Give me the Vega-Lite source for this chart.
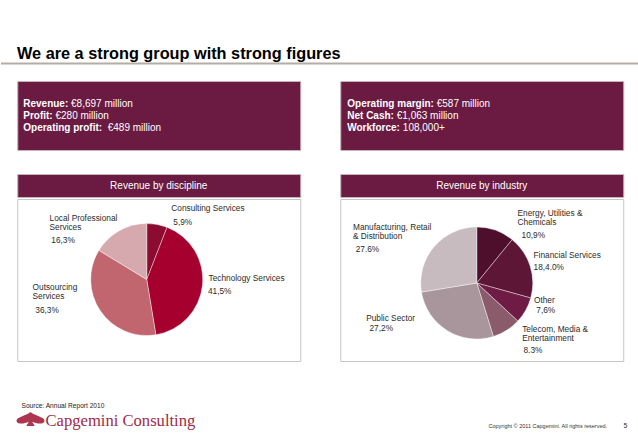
{
  "$schema": "https://vega.github.io/schema/vega-lite/v6.json",
  "padding": 0,
  "background": "white",
  "center": true,
  "spacing": 0,
  "config": {
    "view": {"stroke": null},
    "text": {"font": "Liberation Sans"}
  },
  "vconcat": [
    {
      "width": 638,
      "height": 80,
      "layer": [
        {
          "data": {"values": [{"t": "We are a strong group with strong figures"}]},
          "mark": {"type": "text", "align": "left", "baseline": "alphabetic", "fontSize": 16.3, "fontWeight": "bold", "color": "#000000"},
          "encoding": {"text": {"field": "t"}, "x": {"value": 16}, "y": {"value": 59}}
        },
        {
          "data": {"values": [{}]},
          "mark": {"type": "rule", "color": "#b4ada5", "strokeWidth": 2},
          "encoding": {"y": {"value": 63.5}}
        }
      ]
    },
    {
      "spacing": 22,
      "vconcat": [
        {
          "spacing": 38,
          "hconcat": [
            {
              "width": 283,
              "height": 69,
              "view": {"fill": "#6b1a42", "stroke": "#c4b5bb", "strokeWidth": 1},
              "data": {"values": [
                {"label": "Revenue:", "value": "€8,697 million"},
                {"label": "Profit:", "value": "€280 million"},
                {"label": "Operating profit:", "value": "€489 million"}
              ]},
              "encoding": {
                "y": {"field": "label", "type": "nominal", "sort": null, "axis": null, "scale": {"type": "point", "range": [23, 47], "padding": 0}},
                "x": {"value": 6}
              },
              "layer": [
                {
                  "mark": {"type": "text", "align": "left", "baseline": "middle", "fontSize": 10, "fontWeight": "bold", "color": "white"},
                  "encoding": {"text": {"field": "label"}}
                },
                {
                  "mark": {"type": "text", "align": "left", "baseline": "middle", "fontSize": 10, "color": "white",
                           "dx": {"expr": "datum.label === 'Revenue:' ? 47.8 : datum.label === 'Profit:' ? 32.2 : 84.5"}},
                  "encoding": {"text": {"field": "value"}}
                }
              ]
            },
            {
              "width": 283,
              "height": 69,
              "view": {"fill": "#6b1a42", "stroke": "#c4b5bb", "strokeWidth": 1},
              "data": {"values": [
                {"label": "Operating margin:", "value": "€587 million"},
                {"label": "Net Cash:", "value": "€1,063 million"},
                {"label": "Workforce:", "value": "108,000+"}
              ]},
              "encoding": {
                "y": {"field": "label", "type": "nominal", "sort": null, "axis": null, "scale": {"type": "point", "range": [23, 47], "padding": 0}},
                "x": {"value": 7}
              },
              "layer": [
                {
                  "mark": {"type": "text", "align": "left", "baseline": "middle", "fontSize": 10, "fontWeight": "bold", "color": "white"},
                  "encoding": {"text": {"field": "label"}}
                },
                {
                  "mark": {"type": "text", "align": "left", "baseline": "middle", "fontSize": 10, "color": "white",
                           "dx": {"expr": "datum.label === 'Operating margin:' ? 89.5 : datum.label === 'Net Cash:' ? 49.5 : 55.6"}},
                  "encoding": {"text": {"field": "value"}}
                }
              ]
            }
          ]
        },
        {
          "spacing": 38,
          "resolve": {"scale": {"color": "independent", "theta": "independent"}},
          "hconcat": [
            {
              "spacing": 0,
              "vconcat": [
                {
                  "width": 283,
                  "height": 23,
                  "view": {"fill": "#6b1a42", "stroke": "#c4b5bb", "strokeWidth": 1},
                  "data": {"values": [{"t": "Revenue by discipline"}]},
                  "mark": {"type": "text", "align": "center", "baseline": "middle", "fontSize": 10, "color": "white"},
                  "encoding": {"text": {"field": "t"}}
                },
                {
                  "width": 283,
                  "height": 162,
                  "view": {"fill": "white", "stroke": "#c9c5c0", "strokeWidth": 1},
                  "data": {"values": [
                    {"discipline": "Consulting Services", "label": "Consulting Services", "pct": "5,9%", "share": 5.9},
                    {"discipline": "Technology Services", "label": "Technology Services", "pct": "41,5%", "share": 41.5},
                    {"discipline": "Outsourcing Services", "label": "Outsourcing\nServices", "pct": "36,3%", "share": 36.3},
                    {"discipline": "Local Professional Services", "label": "Local Professional\nServices", "pct": "16,3%", "share": 16.3}
                  ]},
                  "transform": [{"window": [{"op": "row_number", "as": "idx"}]}],
                  "encoding": {
                    "theta": {"field": "share", "type": "quantitative", "stack": true},
                    "order": {"field": "idx", "type": "quantitative"},
                    "detail": {"field": "discipline", "type": "nominal"}
                  },
                  "layer": [
                    {
                      "mark": {"type": "arc", "outerRadius": 56, "xOffset": -12, "yOffset": -0.5, "stroke": "white", "strokeWidth": 0.4},
                      "encoding": {
                        "color": {"field": "discipline", "type": "nominal", "legend": null,
                          "scale": {"domain": ["Consulting Services", "Technology Services", "Outsourcing Services", "Local Professional Services"],
                                    "range": ["#8c0b31", "#a6002f", "#c1656f", "#d6a9ae"]}}
                      }
                    },
                    {
                      "mark": {"type": "text", "radius": 62, "xOffset": -12, "yOffset": -0.5, "align": "left", "baseline": "middle",
                               "fontSize": 8.3, "lineBreak": "\n", "lineHeight": 9, "color": "#2b2b2b",
                               "dx": {"expr": "[13.1, 0.1, -62.8, -66.8][datum.idx - 1]"},
                               "dy": {"expr": "[-9.3, -6.9, -25.7, -6.8][datum.idx - 1]"}},
                      "encoding": {"text": {"field": "label"}}
                    },
                    {
                      "mark": {"type": "text", "radius": 62, "xOffset": -12, "yOffset": -0.5, "align": "left", "baseline": "middle",
                               "fontSize": 8.3, "color": "#2b2b2b",
                               "dx": {"expr": "[15.1, -0.5, -60.1, -65.1][datum.idx - 1]"},
                               "dy": {"expr": "[4.4, 5.8, -3.5, 15.5][datum.idx - 1]"}},
                      "encoding": {"text": {"field": "pct"}}
                    }
                  ]
                }
              ]
            },
            {
              "spacing": 0,
              "vconcat": [
                {
                  "width": 283,
                  "height": 23,
                  "view": {"fill": "#6b1a42", "stroke": "#c4b5bb", "strokeWidth": 1},
                  "data": {"values": [{"t": "Revenue by industry"}]},
                  "mark": {"type": "text", "align": "center", "baseline": "middle", "fontSize": 10, "color": "white"},
                  "encoding": {"text": {"field": "t"}}
                },
                {
                  "width": 283,
                  "height": 162,
                  "view": {"fill": "white", "stroke": "#c9c5c0", "strokeWidth": 1},
                  "data": {"values": [
                    {"industry": "Energy, Utilities & Chemicals", "label": "Energy, Utilities &\nChemicals", "pct": "10,9%", "share": 10.9},
                    {"industry": "Financial Services", "label": "Financial Services", "pct": "18,4.0%", "share": 18.4},
                    {"industry": "Other", "label": "Other", "pct": "7,6%", "share": 7.6},
                    {"industry": "Telecom, Media & Entertainment", "label": "Telecom, Media &\nEntertainment", "pct": "8.3%", "share": 8.3},
                    {"industry": "Public Sector", "label": "Public Sector", "pct": "27,2%", "share": 27.2},
                    {"industry": "Manufacturing, Retail & Distribution", "label": "Manufacturing, Retail\n& Distribution", "pct": "27.6%", "share": 27.6}
                  ]},
                  "transform": [{"window": [{"op": "row_number", "as": "idx"}]}],
                  "encoding": {
                    "theta": {"field": "share", "type": "quantitative", "stack": true},
                    "order": {"field": "idx", "type": "quantitative"},
                    "detail": {"field": "industry", "type": "nominal"}
                  },
                  "layer": [
                    {
                      "mark": {"type": "arc", "outerRadius": 56, "xOffset": -5, "yOffset": 3, "stroke": "white", "strokeWidth": 0.4},
                      "encoding": {
                        "color": {"field": "industry", "type": "nominal", "legend": null,
                          "scale": {"domain": ["Energy, Utilities & Chemicals", "Financial Services", "Other", "Telecom, Media & Entertainment", "Public Sector", "Manufacturing, Retail & Distribution"],
                                    "range": ["#4e0f2d", "#5e1637", "#6e1c45", "#8b5b6b", "#a8969c", "#c8bbc0"]}}
                      }
                    },
                    {
                      "mark": {"type": "text", "radius": 62, "xOffset": -5, "yOffset": 3, "align": "left", "baseline": "middle",
                               "fontSize": 8.3, "lineBreak": "\n", "lineHeight": 9, "color": "#2b2b2b",
                               "dx": {"expr": "[20, -2.3, 3.1, 12.4, -78, -76.5][datum.idx - 1]"},
                               "dy": {"expr": "[-10.8, -8.7, -12, -5.2, -16.3, -15.2][datum.idx - 1]"}},
                      "encoding": {"text": {"field": "label"}}
                    },
                    {
                      "mark": {"type": "text", "radius": 62, "xOffset": -5, "yOffset": 3, "align": "left", "baseline": "middle",
                               "fontSize": 8.3, "color": "#2b2b2b",
                               "dx": {"expr": "[24, -2.3, 5.4, 13.7, -74.7, -73.8][datum.idx - 1]"},
                               "dy": {"expr": "[11.6, 4, -2.7, 15.7, -7, 7.6][datum.idx - 1]"}},
                      "encoding": {"text": {"field": "pct"}}
                    }
                  ]
                }
              ]
            }
          ]
        }
      ]
    },
    {
      "width": 638,
      "height": 82,
      "layer": [
        {
          "data": {"values": [{"t": "Source: Annual Report 2010"}]},
          "mark": {"type": "text", "align": "left", "baseline": "middle", "fontSize": 6.6, "color": "#222222"},
          "encoding": {"text": {"field": "t"}, "x": {"value": 20}, "y": {"value": 44}}
        },
        {
          "data": {"values": [{"brand": "Capgemini"}]},
          "mark": {"type": "point", "filled": true, "color": "#ad3550", "opacity": 1, "size": 784,
                   "shape": "M 0 -0.5 C 0.35 -0.2 1 -0.15 1 0.12 C 1 0.35 0.55 0.4 0.12 0.2 L 0.3 0.5 L -0.3 0.5 L -0.12 0.2 C -0.55 0.4 -1 0.35 -1 0.12 C -1 -0.15 -0.35 -0.2 0 -0.5 Z"},
          "encoding": {"x": {"value": 29}, "y": {"value": 57}}
        },
        {
          "data": {"values": [{"t": "Capgemini Consulting"}]},
          "mark": {"type": "text", "align": "left", "baseline": "alphabetic", "fontSize": 16.6, "font": "Liberation Serif", "color": "#9e2a47"},
          "encoding": {"text": {"field": "t"}, "x": {"value": 44}, "y": {"value": 64}}
        },
        {
          "data": {"values": [{"t": "Copyright © 2011 Capgemini. All rights reserved."}]},
          "mark": {"type": "text", "align": "left", "baseline": "middle", "fontSize": 5.5, "color": "#333333"},
          "encoding": {"text": {"field": "t"}, "x": {"value": 487}, "y": {"value": 64}}
        },
        {
          "data": {"values": [{"t": "5"}]},
          "mark": {"type": "text", "align": "left", "baseline": "middle", "fontSize": 7, "color": "#333333"},
          "encoding": {"text": {"field": "t"}, "x": {"value": 622}, "y": {"value": 64}}
        }
      ]
    }
  ]
}
